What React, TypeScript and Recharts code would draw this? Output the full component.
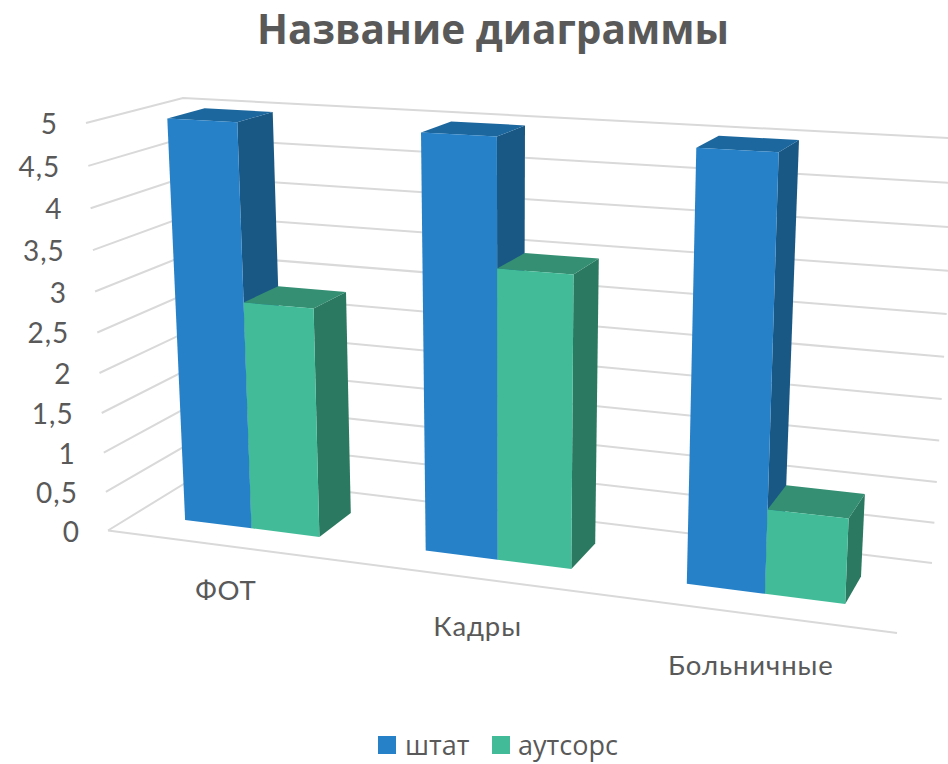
import { Bar, BarChart, CartesianGrid, XAxis, YAxis } from "recharts";

const categories = ["ФОТ", "Кадры", "Больничные"];
const shtat = [5, 5, 5];
const autsors = [2.85, 3.5, 1];
const yTicks = [0, 0.5, 1, 1.5, 2, 2.5, 3, 3.5, 4, 4.5, 5];

const chartData = categories.map((name, i) => ({ name, shtat: shtat[i], autsors: autsors[i] }));

const TEXT = "#595959";
const GRID = "#d9d9d9";
const TICK_FONT = "Lato, 'Open Sans', sans-serif";
const LEGEND_FONT = "'Open Sans', sans-serif";

// flat plot area that recharts lays out; it gets projected onto the 3d box below
const WIDTH = 948;
const HEIGHT = 764;
const PX = 100;
const PY = 100;
const PW = 750;
const PH = 524;

type Pt = [number, number];
const FRONT_BOTTOM_L: Pt = [108, 530.5];
const FRONT_BOTTOM_R: Pt = [897, 633];
const BACK_BOTTOM_L: Pt = [200, 474];
const BACK_BOTTOM_R: Pt = [932, 563];
const FRONT_TOP_L: Pt = [86, 123];
const FRONT_TOP_R: Pt = [917, 170];
const BACK_TOP_L: Pt = [183, 98];
const BACK_TOP_R: Pt = [957, 138.5];
const PERSPECTIVE_X = 1.132;
const PERSPECTIVE_Y = 1.058;
const BAR_FRONT = 0.3;
const BAR_BACK = 0.7;

const mix = (a: Pt, b: Pt, k: number): Pt => [a[0] + (b[0] - a[0]) * k, a[1] + (b[1] - a[1]) * k];

function project(u: number, v: number, d: number): Pt {
  const t = u / (u + PERSPECTIVE_X * (1 - u));
  const h = v / (v + PERSPECTIVE_Y * (1 - v));
  const front = mix(mix(FRONT_BOTTOM_L, FRONT_BOTTOM_R, t), mix(FRONT_TOP_L, FRONT_TOP_R, t), h);
  const back = mix(mix(BACK_BOTTOM_L, BACK_BOTTOM_R, t), mix(BACK_TOP_L, BACK_TOP_R, t), h);
  return mix(front, back, d);
}

const toPoints = (pts: Pt[]) => pts.map((p) => `${p[0].toFixed(1)},${p[1].toFixed(1)}`).join(" ");
const plotU = (x: number) => (x - PX) / PW;
const plotV = (y: number) => (PY + PH - y) / PH;

function box3d(colors: { front: string; top: string; side: string }) {
  return (props: any) => {
    const { x, y, width } = props;
    const u0 = plotU(x);
    const u1 = plotU(x + width);
    const v = plotV(y);
    const side = [project(u1, 0, BAR_FRONT), project(u1, 0, BAR_BACK), project(u1, v, BAR_BACK), project(u1, v, BAR_FRONT)];
    const top = [project(u0, v, BAR_FRONT), project(u0, v, BAR_BACK), project(u1, v, BAR_BACK), project(u1, v, BAR_FRONT)];
    const front = [project(u0, 0, BAR_FRONT), project(u1, 0, BAR_FRONT), project(u1, v, BAR_FRONT), project(u0, v, BAR_FRONT)];
    return (
      <g>
        <polygon points={toPoints(side)} fill={colors.side} />
        <polygon points={toPoints(top)} fill={colors.top} />
        <polygon points={toPoints(front)} fill={colors.front} />
      </g>
    );
  };
}

const blueBox = box3d({ front: "#2681c8", top: "#1c679e", side: "#195885" });
const greenBox = box3d({ front: "#42bc98", top: "#348f73", side: "#2b7960" });

function gridLine(props: any) {
  const v = plotV(props.y1);
  const wall = [project(0, v, 0), project(0, v, 1), project(1, v, 1)];
  return (
    <g key={props.key}>
      <polyline points={toPoints(wall)} fill="none" stroke={GRID} strokeWidth={2} />
      {Math.abs(v) < 0.001 && (
        <polyline points={toPoints([project(0, 0, 0), project(1, 0, 0)])} fill="none" stroke={GRID} strokeWidth={2} />
      )}
    </g>
  );
}

function YTick({ y, payload }: any) {
  const [px, py] = project(0, plotV(y), 0);
  return (
    <text
      x={px - 28}
      y={py}
      textAnchor="end"
      dominantBaseline="central"
      fontSize={28}
      letterSpacing={1}
      fontFamily={TICK_FONT}
      fill={TEXT}
    >
      {String(payload.value).replace(".", ",")}
    </text>
  );
}

function XTick({ x, payload }: any) {
  const u = plotU(x);
  const [px, py] = project(u, 0, 0);
  return (
    <text
      x={px - 0.5}
      y={py + 42 + u * 10}
      textAnchor="middle"
      dominantBaseline="central"
      fontSize={27.5}
      letterSpacing={0.9}
      fontFamily={TICK_FONT}
      fill={TEXT}
    >
      {payload.value}
    </text>
  );
}

function LegendItem({ color, label, left, textLeft }: { color: string; label: string; left: number; textLeft: number }) {
  return (
    <>
      <div style={{ position: "absolute", left, top: 736, width: 18, height: 18, background: color }} />
      <div style={{ position: "absolute", left: textLeft, top: 727, lineHeight: "36px", fontSize: 27, fontFamily: LEGEND_FONT, color: TEXT }}>
        {label}
      </div>
    </>
  );
}

export default function App() {
  return (
    <div style={{ position: "absolute", left: 0, top: 0, width: WIDTH, height: HEIGHT, overflow: "hidden", background: "#fff" }}>
      <div
        style={{
          position: "absolute",
          left: 243,
          width: 500,
          top: -1,
          lineHeight: "60px",
          textAlign: "center",
          whiteSpace: "nowrap",
          fontFamily: "'Open Sans', sans-serif",
          fontWeight: 700,
          fontSize: 40.6,
          color: TEXT,
        }}
      >
        Название диаграммы
      </div>
      <BarChart
        width={WIDTH}
        height={HEIGHT}
        data={chartData}
        margin={{ top: PY, right: WIDTH - PX - PW, bottom: 100, left: 60 }}
        barCategoryGap="21.6%"
        barGap={0}
      >
        <CartesianGrid horizontal={gridLine} vertical={false} />
        <XAxis dataKey="name" height={40} axisLine={false} tickLine={false} tick={<XTick />} interval={0} />
        <YAxis width={40} domain={[0, 5]} ticks={yTicks} axisLine={false} tickLine={false} tick={<YTick />} interval={0} />
        <Bar dataKey="shtat" name="штат" fill="#2681c8" shape={blueBox} isAnimationActive={false} />
        <Bar dataKey="autsors" name="аутсорс" fill="#42bc98" shape={greenBox} isAnimationActive={false} />
      </BarChart>
      <LegendItem color="#2681c8" label="штат" left={378} textLeft={405} />
      <LegendItem color="#42bc98" label="аутсорс" left={492} textLeft={518} />
    </div>
  );
}
